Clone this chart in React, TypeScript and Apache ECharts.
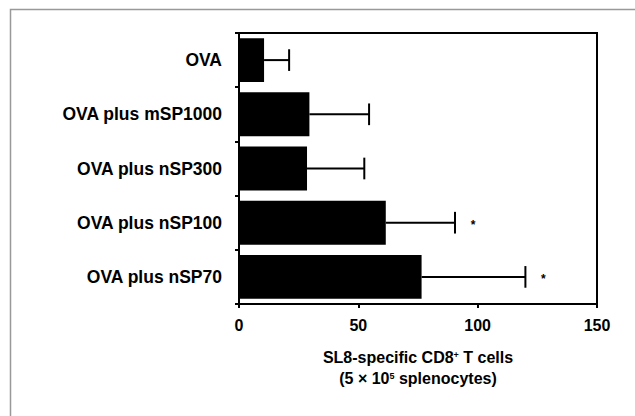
import React, { useEffect, useRef } from "react";
import * as echarts from "echarts";

const categories = ["OVA", "OVA plus mSP1000", "OVA plus nSP300", "OVA plus nSP100", "OVA plus nSP70"];
const means = [10.5, 29.5, 28.5, 61.5, 76.5];
const errorTops = [21, 54.5, 52.5, 90.5, 120];
const significant = ["", "", "", "*", "*"];
const xTicks = [0, 50, 100, 150];

export default function App() {
  const ref = useRef<HTMLDivElement>(null);
  useEffect(() => {
    document.body.style.margin = "0";
    const chart = echarts.init(ref.current!, null, { renderer: "svg" });
    const font = "'Liberation Sans', Arial, sans-serif";
    const errData = categories.map((c, i) => [means[i], errorTops[i], i, significant[i]]);
    chart.setOption({
      animation: false,
      backgroundColor: "#fff",
      textStyle: { fontFamily: font },
      grid: { left: 239, right: 38, top: 33, bottom: 112, show: true, borderColor: "#000", borderWidth: 2 },
      graphic: [
        { type: "rect", shape: { x: 10.5, y: 9.5, width: 700, height: 500 }, style: { fill: "none", stroke: "#999", lineWidth: 1.5 }, silent: true, z: -10 }
      ],
      xAxis: {
        type: "value",
        min: xTicks[0],
        max: xTicks[xTicks.length - 1],
        interval: 50,
        splitLine: { show: false },
        axisLine: { show: true, lineStyle: { color: "#000", width: 2 } },
        axisTick: { show: true, length: 4, lineStyle: { color: "#000", width: 2 } },
        axisLabel: { color: "#000", fontSize: 16, fontWeight: "bold", margin: 13, fontFamily: font },
        name: "{a|SL8-specific CD8}{s|+}{a| T cells}\n{a|(5 × 10}{s|5}{a| splenocytes)}",
        nameLocation: "middle",
        nameGap: 40,
        nameTextStyle: {
          color: "#000",
          fontFamily: font,
          verticalAlign: "top",
          rich: {
            a: { fontSize: 16, fontWeight: "bold", color: "#000", fontFamily: font, lineHeight: 21, verticalAlign: "bottom" },
            s: { fontSize: 9, fontWeight: "bold", color: "#000", fontFamily: font, lineHeight: 21, verticalAlign: "middle" }
          }
        }
      },
      yAxis: {
        type: "category",
        data: categories,
        inverse: true,
        axisLine: { show: true, lineStyle: { color: "#000", width: 2 } },
        axisTick: { show: true, length: 4, lineStyle: { color: "#000", width: 2 } },
        axisLabel: { color: "#000", fontSize: 17.5, fontWeight: "bold", margin: 17, fontFamily: font }
      },
      series: [
        {
          type: "bar",
          data: means,
          barCategoryGap: "19%",
          itemStyle: { color: "#000" }
        },
        {
          type: "custom",
          data: errData,
          encode: { x: [0, 1], y: 2 },
          z: 5,
          renderItem: (params: any, api: any) => {
            const lo = api.coord([api.value(0), api.value(2)]);
            const hi = api.coord([api.value(1), api.value(2)]);
            const h = api.size([0, 1])[1] * 0.4;
            const sig = errData[params.dataIndex][3] as string;
            const children: any[] = [
              { type: "line", shape: { x1: lo[0], y1: lo[1], x2: hi[0], y2: hi[1] }, style: { stroke: "#000", lineWidth: 2 } },
              { type: "line", shape: { x1: hi[0], y1: hi[1] - h / 2, x2: hi[0], y2: hi[1] + h / 2 }, style: { stroke: "#000", lineWidth: 2 } }
            ];
            if (sig) {
              children.push({
                type: "text",
                style: { text: sig, x: hi[0] + 18, y: hi[1] + 2, fill: "#000", font: "bold 12px 'Liberation Sans', Arial, sans-serif", align: "center", verticalAlign: "middle" }
              });
            }
            return { type: "group", children };
          }
        }
      ]
    });
    return () => chart.dispose();
  }, []);
  return <div ref={ref} style={{ width: 635, height: 416 }} />;
}
